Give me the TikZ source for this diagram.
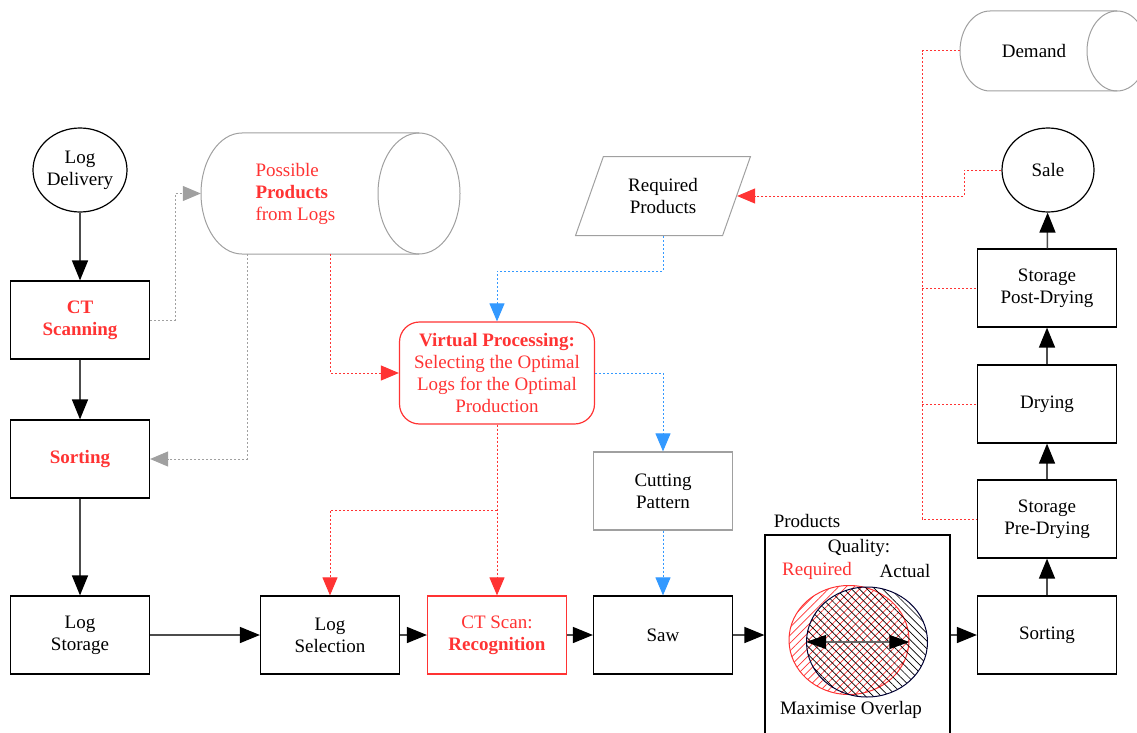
\documentclass[tikz,border=0pt]{standalone}
\usepackage{fontspec}
\setmainfont{Liberation Serif}
\usetikzlibrary{arrows.meta,shapes.geometric,patterns.meta,positioning}
\definecolor{vpred}{HTML}{FF3333}
\definecolor{vpblue}{HTML}{3399FF}
\definecolor{vpgray}{HTML}{A0A0A0}
\definecolor{vpnavy}{HTML}{000033}
\begin{document}
\begin{tikzpicture}[x=1pt,y=-1pt,
	every node/.style={font=\fontsize{19}{22}\selectfont,align=center},
	box/.style={draw,line width=1.2pt,minimum width=139,minimum height=78,inner sep=2pt},
	redbf/.style={text=vpred,font=\fontsize{19}{22}\selectfont\bfseries},
	flow/.style={draw=black!70,line width=1.5pt,-{Triangle[length=20pt,width=16pt,black]}},
	dotline/.style={line width=1pt,dash pattern=on 2pt off 2pt},
	reddot/.style={dotline,draw=vpred},
	redarr/.style={reddot,-{Triangle[length=18pt,width=15pt,vpred]}},
	bluearr/.style={dotline,draw=vpblue,-{Triangle[length=18pt,width=15pt,vpblue]}},
	grayarr/.style={dotline,draw=vpgray,-{Triangle[length=18pt,width=15pt,vpgray]}},
	store/.style={draw=vpgray,line width=1pt}]
		\clip (0,0) rectangle (1137,733);
		\node[ellipse,draw,line width=1.2pt,minimum width=92,minimum height=84,inner sep=0] (logDel) at (80,170) {Log\\Delivery};
		\node[box,redbf] (ctScan) at (80,320) {CT\\Scanning};
		\node[box,redbf] (sortL) at (80,459) {Sorting};
		\node[box] (logStore) at (80,635) {Log\\Storage};
		\node[box] (logSel) at (330,635) {Log\\Selection};
		\node[box,draw=vpred,text=vpred] (ctRec) at (497,635) {CT Scan:\\\textbf{Recognition}};
		\node[box] (saw) at (663,635) {Saw};
		\node[box,draw=vpgray] (cutPat) at (663,491) {Cutting\\Pattern};
		\node[box] (sortR) at (1047,635) {Sorting};
		\node[box] (preDry) at (1047,519) {Storage\\Pre-Drying};
		\node[box] (drying) at (1047,404) {Drying};
		\node[box] (postDry) at (1047,288) {Storage\\Post-Drying};
		\node[ellipse,draw,line width=1.2pt,minimum width=92,minimum height=84,inner sep=0] (sale) at (1048,170) {Sale};
		% log store: possible products
		\node[minimum width=259,minimum height=121,inner sep=0] (ppCyl) at (330.5,193.5) {};
		\draw[store] (419,133) -- (242,133) arc[start angle=270,end angle=90,x radius=41,y radius=60.5] -- (419,254);
		\draw[store] (419,193.5) ellipse[x radius=41,y radius=60.5];
		\node[text=vpred,align=left,anchor=west] (ppText) at (252,193.5) {Possible\\\textbf{Products}\\from Logs};
		% demand
		\node[minimum width=187,minimum height=80,inner sep=0] (demand) at (1053.5,51) {};
		\draw[store] (1117,11) -- (990,11) arc[start angle=270,end angle=90,x radius=30,y radius=40] -- (1117,91);
		\draw[store] (1117,51) ellipse[x radius=30,y radius=40];
		\node (dmdText) at (1034,51) {Demand};
		\node[trapezium,trapezium left angle=67,trapezium right angle=113,trapezium stretches=true,draw=vpgray,line width=1pt,minimum width=175,minimum height=79] (reqProd) at (663,196) {Required\\Products};
		\node[draw=vpred,rounded corners=20,line width=1.2pt,minimum width=195,minimum height=102,text=vpred] (virt) at (497,373) {\textbf{Virtual Processing:}\\Selecting the Optimal\\Logs for the Optimal\\Production};
		\node[draw,line width=1.2pt,minimum width=185,minimum height=230] (prod) at (857.5,650) {};
		\node (prodLbl) at (807,521) {Products};
		\node (quality) at (859,548) {Quality:};
		\node[text=vpred] (reqLbl) at (817,571) {Required};
		\node (actLbl) at (905,571) {Actual};
		\node[ellipse,draw=vpred,line width=1pt,minimum width=120,minimum height=109,pattern={Lines[angle=45,distance=5.5pt,line width=0.7pt]},pattern color=vpred] (reqQ) at (849,640) {};
		\node[ellipse,draw=vpnavy,line width=1pt,minimum width=121,minimum height=110,pattern={Lines[angle=-45,distance=5.5pt,line width=0.7pt]},pattern color=black] (actQ) at (867,642) {};
		\node (overlap) at (851,710) {Maximise Overlap};
		\draw[black!60,line width=1.2pt,{Triangle[length=20pt,width=14pt,black]}-{Triangle[length=20pt,width=14pt,black]}] (actQ.west) -- (actQ.west -| reqQ.east);
		\draw[flow] (logDel) -- (ctScan);
		\draw[flow] (ctScan) -- (sortL);
		\draw[flow] (sortL) -- (logStore);
		\draw[flow] (logStore) -- (logSel);
		\draw[flow] (logSel) -- (ctRec);
		\draw[flow] (ctRec) -- (saw);
		\draw[flow] (saw.east) -- (saw.east -| prod.west);
		\draw[flow] (prod.east |- sortR.west) -- (sortR.west);
		\draw[flow] (sortR) -- (preDry);
		\draw[flow] (preDry) -- (drying);
		\draw[flow] (drying) -- (postDry);
		\draw[flow] (postDry) -- (sale);
		\draw[grayarr] (ctScan.east) -- ++(25,0) |- (ppCyl.west);
		\coordinate (ppOutL) at (247,254);
		\draw[grayarr] (ppOutL) |- (sortL.east);
		\coordinate (ppOutR) at (330,254);
		\draw[redarr] (ppOutR) |- (virt.west);
		\draw[bluearr] (reqProd.south) -- ++(0,35) -| (virt.north);
		\draw[bluearr] (virt.east) -| (cutPat.north);
		\draw[bluearr] (cutPat.south) -- (saw.north);
		\draw[redarr] (virt.south) -- (ctRec.north);
		\coordinate (vpSplit) at (virt.south |- 0,510);
		\draw[redarr] (vpSplit) -| (logSel.north);
		\draw[redarr] (sale.west) -- ++(-37,0) |- (reqProd.east);
		\coordinate (dmdBus) at (922,51);
		\draw[reddot] (demand.west) -- (dmdBus) |- (preDry.west);
		\draw[reddot] (dmdBus |- postDry.west) -- (postDry.west);
		\draw[reddot] (dmdBus |- drying.west) -- (drying.west);
\end{tikzpicture}
\end{document}
